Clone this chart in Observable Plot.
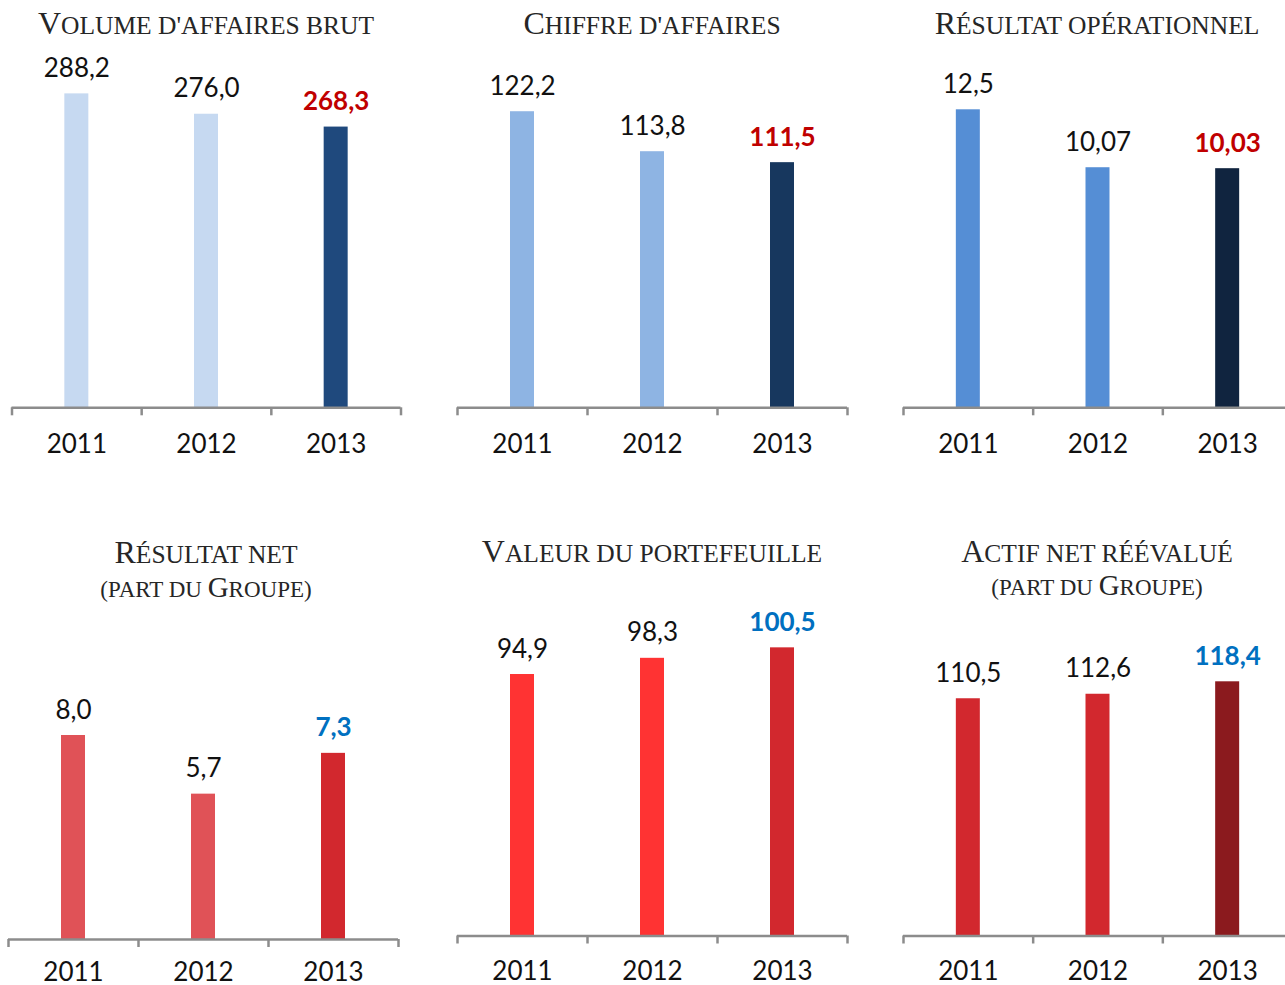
<!DOCTYPE html>
<html>
<head>
<meta charset="utf-8">
<script src="https://cdn.jsdelivr.net/npm/d3@7"></script>
<script src="https://cdn.jsdelivr.net/npm/@observablehq/plot@0.6"></script>
<style>
  html, body { margin: 0; padding: 0; background: #fff; overflow: hidden; }
  #root { position: relative; width: 1285px; height: 985px; }
  #titles { position: absolute; left: 0; top: 0; width: 1285px; height: 985px; }
  .m { display: inline-block; width: 0; height: 0; }
</style>
</head>
<body>
<div id="root"><div id="titles"></div></div>
<script>
// ---- Data ----
const years = ["2011", "2012", "2013"];
const volumeAffaires = [288.2, 276.0, 268.3];
const chiffreAffaires = [122.2, 113.8, 111.5];
const resultatOperationnel = [12.5, 10.07, 10.03];
const resultatNet = [8.0, 5.7, 7.3];
const valeurPortefeuille = [94.9, 98.3, 100.5];
const actifNetReevalue = [110.5, 112.6, 118.4];
const titles = [
  ["Volume d'affaires brut"],
  ["Chiffre d'affaires"],
  ["Résultat opérationnel"],
  ["Résultat net", "(part du Groupe)"],
  ["Valeur du portefeuille"],
  ["Actif net réévalué", "(part du Groupe)"]
];

// ---- Layout / style ----
const W = 1285, H = 985;
const locale = d3.formatLocale({decimal: ",", thousands: " ", grouping: [3], currency: ["", " €"]});
const panels = [
  {values: volumeAffaires, fmt: ".1f", v0: 100, k: 1.668, xr: [11.5, 400.5], base: 407.3, tickDy: 45,
   colors: ["#c6d9f1", "#c6d9f1", "#1f497d"], emph: "#c00000", cx: 206, tb: [34]},
  {values: chiffreAffaires, fmt: ".1f", v0: 60, k: 4.76, xr: [457, 847], base: 407.3, tickDy: 45,
   colors: ["#8eb4e3", "#8eb4e3", "#17375e"], emph: "#c00000", cx: 652, tb: [34]},
  {values: resultatOperationnel, fmt: ".2~f", v0: 0, k: 23.84, xr: [903, 1292], base: 407.3, tickDy: 45,
   colors: ["#558ed5", "#558ed5", "#10243f"], emph: "#c00000", cx: 1097, tb: [34]},
  {values: resultatNet, fmt: ".1f", v0: 0, k: 25.5, xr: [8, 398], base: 939, tickDy: 41,
   colors: ["#e05257", "#e05257", "#d2282e"], emph: "#0070c0", cx: 206, tb: [563, 597]},
  {values: valeurPortefeuille, fmt: ".1f", v0: 40, k: 4.763, xr: [457, 847], base: 935.5, tickDy: 44,
   colors: ["#ff3333", "#ff3333", "#d2282e"], emph: "#0070c0", cx: 652, tb: [562]},
  {values: actifNetReevalue, fmt: ".1f", v0: 0, k: 2.147, xr: [903, 1292], base: 935.5, tickDy: 44,
   colors: ["#d2282e", "#d2282e", "#8b1a1e"], emph: "#0070c0", cx: 1097, tb: [562, 595]}
];
const lineSizes = [[32, 25.5], [29, 23]];
const axisColor = "#8c8c8c";
const font = "Lato, 'Open Sans', sans-serif";

const root = document.getElementById("root");

panels.forEach((p, pi) => {
  const f = locale.format(p.fmt);
  const data = years.map((year, i) => ({i, year, value: p.values[i], label: f(p.values[i]), fill: p.colors[i]}));
  const [x0, x1] = p.xr;
  const band = (x1 - x0) / 3;
  const inset = (band - 24) / 2;
  const chart = Plot.plot({
    width: W,
    height: H,
    marginLeft: x0,
    marginRight: Math.max(0, W - x1),
    marginTop: 0,
    marginBottom: H - p.base,
    x: {type: "linear", domain: [0, 3], range: [x0, x1], axis: null, label: null},
    y: {domain: [p.v0, p.v0 + p.base / p.k], range: [p.base, 0], axis: null, label: null},
    color: {type: "identity"},
    style: {background: "transparent", overflow: "visible", position: "absolute", left: "0px", top: "0px", fontFamily: font},
    marks: [
      Plot.rect(data, {x1: "i", x2: d => d.i + 1, y1: p.v0, y2: "value", fill: "fill", insetLeft: inset, insetRight: inset}),
      Plot.ruleY([p.v0], {stroke: axisColor, strokeWidth: 2.5}),
      Plot.axisX({ticks: [0, 1, 2, 3], tickSize: 8, tickFormat: () => "", label: null, stroke: axisColor, strokeWidth: 2.5}),
      Plot.text(data, {x: d => d.i + 0.5, y: p.v0, text: "year", lineAnchor: "bottom", dy: p.tickDy, fontSize: 26, fill: "#111", fontFamily: font}),
      Plot.text(data.filter(d => d.i < 2), {x: d => d.i + 0.5, y: "value", text: "label", lineAnchor: "bottom", dy: -17, fontSize: 26, fill: "#111", fontFamily: font}),
      Plot.text(data.filter(d => d.i === 2), {x: d => d.i + 0.5, y: "value", text: "label", lineAnchor: "bottom", dy: -17, fontSize: 26, fontWeight: "bold", fill: p.emph, fontFamily: font})
    ]
  });
  root.appendChild(chart);
});

// ---- Titles in small caps ----
function smallCapsHTML(str, big, small) {
  let out = "";
  for (const ch of str) {
    const isUpper = ch !== ch.toLowerCase() && ch === ch.toUpperCase();
    const size = isUpper ? big : small;
    const c = ch === "'" ? "&#39;" : ch.toUpperCase();
    out += `<span style="font-size:${size}px">${c}</span>`;
  }
  return out;
}
const layer = document.getElementById("titles");
titles.forEach((lines, pi) => {
  const p = panels[pi];
  lines.forEach((text, li) => {
    const [big, small] = lineSizes[li];
    const div = document.createElement("div");
    div.style.cssText = `position:absolute;left:${p.cx - 300}px;width:600px;top:0px;text-align:center;white-space:nowrap;font-family:'Liberation Serif','Times New Roman',serif;color:#262626;line-height:1.2;font-size:${big}px`;
    div.innerHTML = smallCapsHTML(text, big, small) + '<span class="m"></span>';
    layer.appendChild(div);
    const m = div.querySelector(".m");
    const by = m.getBoundingClientRect().top - layer.getBoundingClientRect().top;
    div.style.top = (p.tb[li] - by) + "px";
  });
});
layer.style.zIndex = 5;
</script>
</body>
</html>
